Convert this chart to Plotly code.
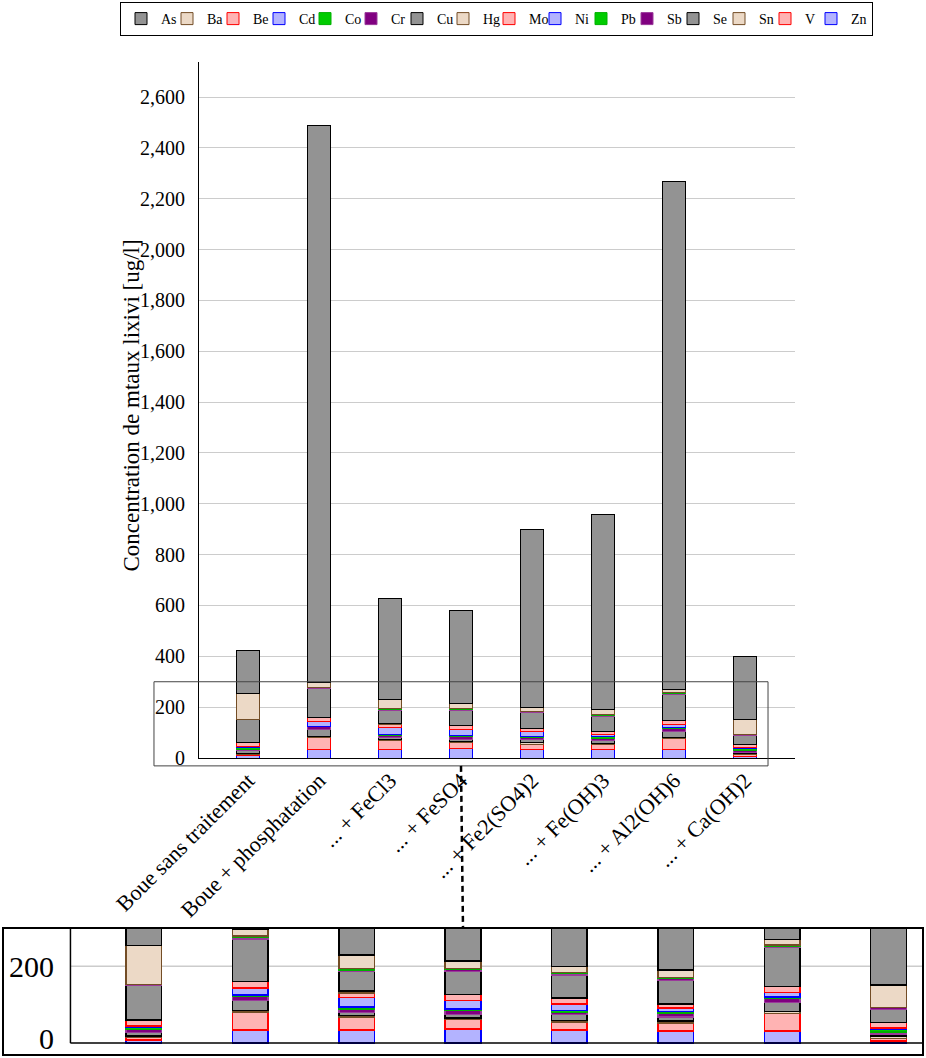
import plotly.graph_objects as go

categories = ["Boue sans traitement", "Boue + phosphatation", "... + FeCl3", "... + FeSO4",
              "... + Fe2(SO4)2", "... + Fe(OH)3", "... + Al2(OH)6", "... + Ca(OH)2"]

# values in ug/l, listed in stacking order (bottom to top)
Zn = [8, 34.5, 34.5, 37, 34.5, 32, 32, 6]
V = [6, 47, 33.5, 25.5, 20.5, 20.5, 45, 6]
Sn = [5, 3.5, 4.5, 3.5, 4.5, 4.5, 5.5, 7]
Se = [9, 26.5, 7, 8, 15, 11.5, 23, 4.5]
Sb = [7, 10.5, 9, 10.5, 5.5, 10, 10.5, 6]
Pb = [7, 3.5, 5, 4.5, 4.5, 4.5, 4.5, 7]
Ni = [3, 17.5, 25, 22, 18, 8, 11.5, 3.5]
Mo = [15, 18, 12.5, 16, 15, 11.5, 15, 14]
Hg = [None, None, 5, None, None, None, None, None]
Cu = [90, 110.5, 50.5, 60, 60, 61, 102, 34]
Cr = [3, 4, 3.5, 4.5, 3.5, 4.5, 3.5, 5]
Co = [None, 3.5, 4.5, 3.5, 3.5, 2.5, 3.5, None]
Cd = [None] * 8
Be = [None] * 8
Ba = [101, 18, 34.5, 18.5, 15, 20.5, 14, 58.5]
As = [167, 2193, 399, 368, 698, 766, 1996, 249]

series = [("Zn", Zn), ("V", V), ("Sn", Sn), ("Se", Se), ("Sb", Sb), ("Pb", Pb),
          ("Ni", Ni), ("Mo", Mo), ("Hg", Hg), ("Cu", Cu), ("Cr", Cr), ("Co", Co),
          ("Cd", Cd), ("Be", Be), ("Ba", Ba), ("As", As)]

y_ticks = list(range(0, 2601, 200))

styles = {
    "blue": ("#b3b3ff", "#0000ff"),
    "red": ("#ffb3b3", "#ff0000"),
    "brown": ("#ecd9c6", "#734d26"),
    "gray": ("#939393", "#000000"),
    "violet": ("#800080", "#9a3a9a"),
    "green": ("#00cc00", "#00b000"),
}
cycle = ["blue", "red", "brown", "gray", "violet", "green"]

W, H = 926, 1058
FONT = "Liberation Serif"

# main plot area (pixels)
MX0, MX1, MY0, MY1 = 199, 795, 62, 758
xr_main = [-0.69, 7.704]
yr_main = [0, 2738]
# magnified region (data coords of main axes)
zx = [-1.324, 7.324]
zy = [-31, 300]
# inset area (pixels)
IX0, IX1, IY0, IY1 = 3, 923, 928, 1055

BW = 0.335

fig = go.Figure()
for i, (name, vals) in enumerate(series):
    fill, line = styles[cycle[i % 6]]
    fig.add_trace(go.Bar(x=categories, y=vals, name=name, width=BW,
                         legendwidth=(16 if i == 0 else None),
                         marker=dict(color=fill, line=dict(color=line, width=1)),
                         xaxis="x", yaxis="y"))
for i, (name, vals) in enumerate(series):
    fill, line = styles[cycle[i % 6]]
    fig.add_trace(go.Bar(x=categories, y=vals, name=name, width=BW, showlegend=False,
                         marker=dict(color=fill, line=dict(color=line, width=1.5)),
                         xaxis="x2", yaxis="y2"))


def px_to_paper_x(p):
    return p / W


def px_to_paper_y(p):
    return 1 - p / H


def main_x_to_px(v):
    return MX0 + (v - xr_main[0]) / (xr_main[1] - xr_main[0]) * (MX1 - MX0)


def main_y_to_px(v):
    return MY1 - (v - yr_main[0]) / (yr_main[1] - yr_main[0]) * (MY1 - MY0)


shapes = []
# rectangle of the magnified region on the main chart
rx0, rx1 = main_x_to_px(zx[0]), main_x_to_px(zx[1])
ry0, ry1 = main_y_to_px(zy[1]), main_y_to_px(zy[0])
shapes.append(dict(type="rect", xref="paper", yref="paper",
                   x0=px_to_paper_x(rx0), x1=px_to_paper_x(rx1),
                   y0=px_to_paper_y(ry1), y1=px_to_paper_y(ry0),
                   line=dict(color="#444444", width=1)))
# dashed connector
shapes.append(dict(type="line", xref="paper", yref="paper",
                   x0=px_to_paper_x((rx0 + rx1) / 2), y0=px_to_paper_y(ry1),
                   x1=px_to_paper_x((IX0 + IX1) / 2), y1=px_to_paper_y(IY0),
                   line=dict(color="black", width=2.5, dash="6px,4px")))
# inset frame
shapes.append(dict(type="rect", xref="paper", yref="paper",
                   x0=px_to_paper_x(IX0), x1=px_to_paper_x(IX1),
                   y0=px_to_paper_y(IY1), y1=px_to_paper_y(IY0),
                   line=dict(color="black", width=2)))
# inset replicas of the main axes
shapes.append(dict(type="line", xref="x2", yref="y2", x0=xr_main[0], x1=zx[1], y0=200, y1=200,
                   line=dict(color="#cccccc", width=1.5), layer="below"))
shapes.append(dict(type="line", xref="x2", yref="y2", x0=xr_main[0], x1=xr_main[0], y0=0, y1=zy[1],
                   line=dict(color="black", width=1.5)))
shapes.append(dict(type="line", xref="x2", yref="y2", x0=xr_main[0], x1=zx[1], y0=0, y1=0,
                   line=dict(color="black", width=1.5)))

annotations = [
    dict(text="Concentration de mtaux lixivi [ug/l]", xref="paper", yref="paper",
         x=px_to_paper_x(116), y=px_to_paper_y(406), textangle=-90, showarrow=False,
         font=dict(family=FONT, size=23, color="black")),
    dict(text="200", xref="x2", yref="y2", x=xr_main[0], y=200,
         xanchor="right", yanchor="middle", xshift=-14, showarrow=False,
         font=dict(family=FONT, size=30, color="black")),
    dict(text="0", xref="x2", yref="y2", x=xr_main[0], y=0,
         xanchor="right", yanchor="bottom", xshift=-14, yshift=-14, showarrow=False,
         font=dict(family=FONT, size=30, color="black")),
]

fig.update_layout(
    width=W, height=H,
    margin=dict(l=0, r=0, t=0, b=0, autoexpand=False),
    paper_bgcolor="white", plot_bgcolor="white",
    barmode="stack",
    font=dict(family=FONT, color="black"),
    xaxis=dict(domain=[px_to_paper_x(MX0), px_to_paper_x(MX1)], type="category",
               categoryorder="array", categoryarray=categories, range=xr_main,
               showline=True, linecolor="black", linewidth=1, ticks="", tickangle=-45,
               tickfont=dict(family=FONT, size=22), showgrid=False, anchor="y",
               automargin=False),
    yaxis=dict(domain=[px_to_paper_y(MY1), px_to_paper_y(MY0)], range=yr_main,
               tickvals=y_ticks, tickformat=",d", showgrid=True, gridcolor="#cccccc",
               gridwidth=1, showline=True, linecolor="black", linewidth=1, zeroline=False,
               ticks="", ticklabelstandoff=9, tickfont=dict(family=FONT, size=20), anchor="x",
               automargin=False),
    xaxis2=dict(domain=[px_to_paper_x(IX0), px_to_paper_x(IX1)], type="category",
                categoryorder="array", categoryarray=categories, range=zx,
                visible=False, anchor="y2", automargin=False),
    yaxis2=dict(domain=[px_to_paper_y(IY1), px_to_paper_y(IY0)], range=zy,
                visible=False, anchor="x2", automargin=False),
    legend=dict(orientation="h", traceorder="reversed", x=px_to_paper_x(496.5), xanchor="center",
                y=px_to_paper_y(2), yanchor="top", bordercolor="black", borderwidth=1,
                font=dict(family=FONT, size=14), entrywidth=1, entrywidthmode="pixels",
                bgcolor="white"),
    shapes=shapes,
    annotations=annotations,
)

fig.write_html("out.html", config={"displayModeBar": False},
               post_script="document.body.style.margin='0px';document.body.style.overflow='hidden';")
